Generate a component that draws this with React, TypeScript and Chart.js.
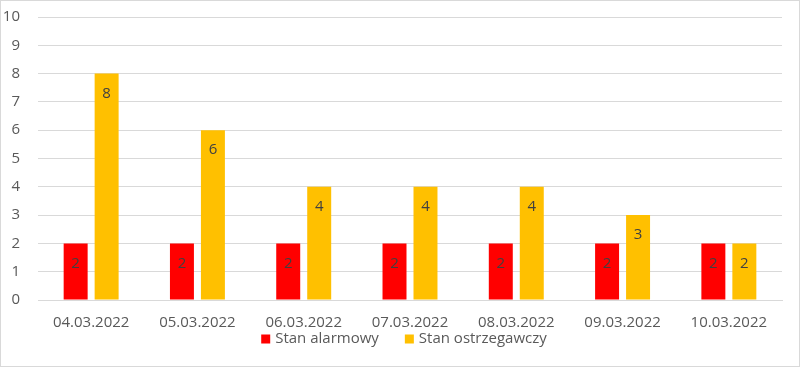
import React, { useEffect, useRef } from "react";
import { Chart, registerables } from "chart.js";

Chart.register(...registerables);

const categories = ["04.03.2022", "05.03.2022", "06.03.2022", "07.03.2022", "08.03.2022", "09.03.2022", "10.03.2022"];
const alarmowy = [2, 2, 2, 2, 2, 2, 2];
const ostrzegawczy = [8, 6, 4, 4, 4, 3, 2];
const yTicks = [0, 1, 2, 3, 4, 5, 6, 7, 8, 9, 10];

const FONT = "'Open Sans', 'Liberation Sans', sans-serif";

const labelPlugin = {
  id: "barLabels",
  afterDatasetsDraw(chart: any) {
    const ctx = chart.ctx;
    ctx.save();
    ctx.font = `15px ${FONT}`;
    ctx.fillStyle = "#404040";
    ctx.textAlign = "center";
    ctx.textBaseline = "middle";
    chart.data.datasets.forEach((ds: any, i: number) => {
      const meta = chart.getDatasetMeta(i);
      meta.data.forEach((bar: any, j: number) => {
        ctx.fillText(String(ds.data[j]), bar.x, bar.y + 20);
      });
    });
    ctx.restore();
  },
};

const legendPlugin = {
  id: "customLegend",
  afterDraw(chart: any) {
    const ctx = chart.ctx;
    ctx.save();
    ctx.font = `15px ${FONT}`;
    ctx.textBaseline = "middle";
    ctx.textAlign = "left";
    const items = chart.data.datasets.map((ds: any) => ({
      label: ds.label,
      color: ds.backgroundColor,
      w: ctx.measureText(ds.label).width,
    }));
    const box = 9;
    const gapBox = 5;
    const gapItem = 26;
    let total = 0;
    items.forEach((it: any, i: number) => {
      total += box + gapBox + it.w + (i < items.length - 1 ? gapItem : 0);
    });
    let x = 404 - total / 2;
    const y = 339;
    items.forEach((it: any) => {
      ctx.fillStyle = it.color;
      ctx.fillRect(x, y - box / 2, box, box);
      x += box + gapBox;
      ctx.fillStyle = "#595959";
      ctx.fillText(it.label, x, y);
      x += it.w + gapItem;
    });
    ctx.strokeStyle = "#d9d9d9";
    ctx.lineWidth = 1;
    ctx.strokeRect(0.5, 0.5, chart.width - 1, chart.height - 1);
    ctx.restore();
  },
};

export default function App() {
  const ref = useRef<HTMLCanvasElement>(null);
  useEffect(() => {
    document.body.style.margin = "0";
    if (!ref.current) return;
    const chart = new Chart(ref.current, {
      type: "bar",
      data: {
        labels: categories,
        datasets: [
          { label: "Stan alarmowy", data: alarmowy, backgroundColor: "#ff0000" },
          { label: "Stan ostrzegawczy", data: ostrzegawczy, backgroundColor: "#ffc000" },
        ],
      },
      options: {
        animation: false,
        responsive: false,
        layout: { padding: { left: 0, right: 18, top: 17, bottom: 0 } },
        datasets: {
          bar: { categoryPercentage: 0.583, barPercentage: 0.774 },
        } as any,
        scales: {
          x: {
            grid: { display: false },
            border: { display: true, color: "#d9d9d9" },
            ticks: { color: "#595959", font: { size: 15, family: FONT }, padding: 6, maxRotation: 0 },
            afterFit: (axis: any) => {
              axis.height = 67;
              axis.paddingLeft = 0;
              axis.paddingRight = 0;
            },
          },
          y: {
            min: 0,
            max: 10,
            afterBuildTicks: (axis: any) => {
              axis.ticks = yTicks.map((v) => ({ value: v }));
            },
            grid: { color: "#d9d9d9", drawTicks: false },
            border: { display: false },
            ticks: { color: "#595959", font: { size: 15, family: FONT }, padding: 18 },
            afterFit: (axis: any) => {
              axis.width = 38;
              axis.paddingTop = 0;
              axis.paddingBottom = 0;
            },
          },
        },
        plugins: {
          legend: { display: false },
          tooltip: { enabled: false },
        },
      },
      plugins: [labelPlugin, legendPlugin],
    });
    return () => chart.destroy();
  }, []);
  return <canvas ref={ref} width={800} height={367} style={{ display: "block" }} />;
}
